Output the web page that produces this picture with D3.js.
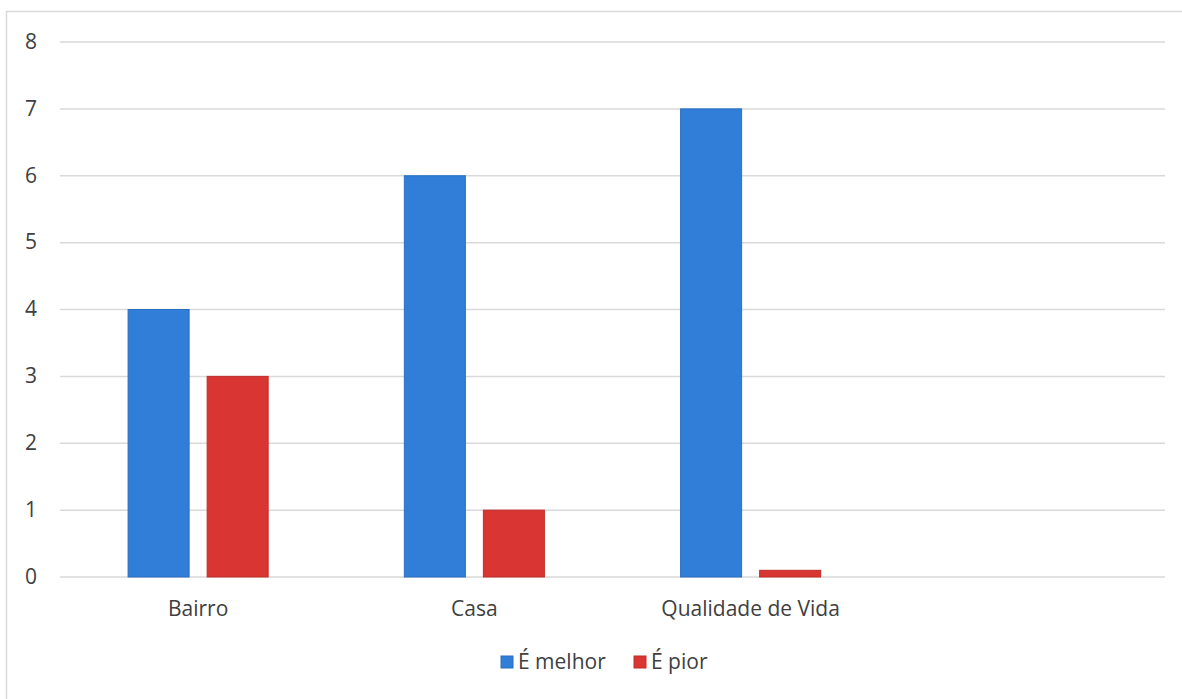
<!DOCTYPE html>
<html><head><meta charset="utf-8">
<script src="https://cdn.jsdelivr.net/npm/d3@7"></script>
<style>body{margin:0;background:#fff;} svg{display:block;} text{font-family:"Open Sans",sans-serif;}</style>
</head><body>
<svg id="c" width="1182" height="699"></svg>
<script>
const categories = ["Bairro", "Casa", "Qualidade de Vida", ""];
const seriesNames = ["É melhor", "É pior"];
const melhor = [4, 6, 7, null];
const pior = [3, 1, 0.1, null];
const yTicks = [0, 1, 2, 3, 4, 5, 6, 7, 8];
const colors = ["#307ed7", "#d93532"];
const strokes = ["#2a6fc0", "#bf2e2b"];

const FS = "21px";
const FF = "'Open Sans', sans-serif";
const svg = d3.select("#c");
const W = 1182, H = 699;
const m = {left: 60, right: 17, top: 42, bottom: 122};
const pw = W - m.left - m.right, ph = H - m.top - m.bottom;

svg.append("rect").attr("x", 6.5).attr("y", 11.5).attr("width", 1200).attr("height", 800)
  .attr("fill", "none").attr("stroke", "#d9d9d9").attr("stroke-width", 1.5);

const g = svg.append("g").attr("transform", `translate(${m.left},${m.top})`);
const y = d3.scaleLinear().domain([0, 8]).range([ph, 0]);
const x0 = d3.scaleBand().domain(categories.map((d,i)=>i)).range([0, pw]).paddingInner(0.493).paddingOuter(0.2465);
const x1 = d3.scaleBand().domain([0, 1]).range([0, x0.bandwidth()]).paddingInner(0.228);

g.append("g").selectAll("line").data(yTicks).join("line")
  .attr("x1", 0).attr("x2", pw).attr("y1", d => y(d)).attr("y2", d => y(d))
  .attr("stroke", "#d9d9d9").attr("stroke-width", 1.5);

const yAxis = d3.axisLeft(y).tickValues(yTicks).tickSize(0).tickPadding(23);
const ya = g.append("g").call(yAxis).attr("font-family", FF);
ya.select(".domain").remove();
ya.selectAll("text").attr("fill", "#404040").style("font-size", FS).attr("dy", "0.3em");

const data = [melhor, pior];
data.forEach((vals, s) => {
  g.append("g").selectAll("rect").data(vals.map((v,i)=>({v,i})).filter(d=>d.v!=null)).join("rect")
    .attr("x", d => x0(d.i) + x1(s))
    .attr("width", x1.bandwidth())
    .attr("y", d => y(d.v))
    .attr("height", d => ph - y(d.v))
    .attr("fill", colors[s]).attr("stroke", strokes[s]).attr("stroke-width", 1);
});

const xAxis = d3.axisBottom(x0).tickFormat(i => categories[i]).tickSize(0).tickPadding(24);
const xa = g.append("g").attr("transform", `translate(0,${ph})`).call(xAxis).attr("font-family", FF);
xa.select(".domain").remove();
xa.selectAll("text").attr("fill", "#404040").style("font-size", FS);

const leg = svg.append("g");
const legX = [501, 634];
seriesNames.forEach((n, s) => {
  leg.append("rect").attr("x", legX[s]).attr("y", 656).attr("width", 12).attr("height", 12)
    .attr("fill", colors[s]).attr("stroke", strokes[s]);
  leg.append("text").attr("x", legX[s] + 17).attr("y", 662).attr("dy", "0.35em")
    .attr("fill", "#404040").style("font-size", FS).text(n);
});
</script>
</body></html>
